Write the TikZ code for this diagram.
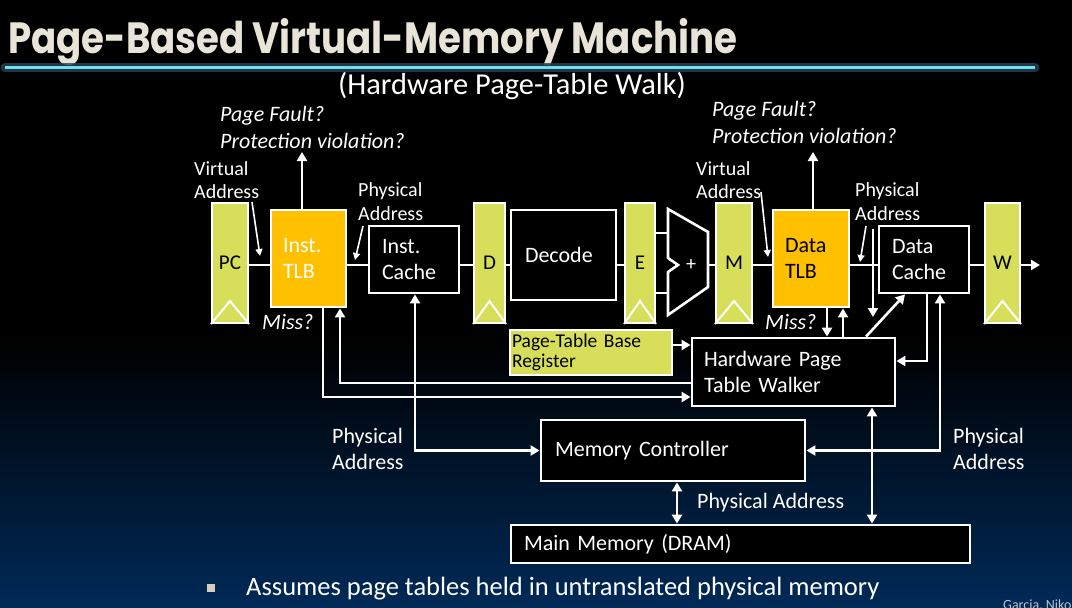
\documentclass[tikz,border=0pt]{standalone}
\usepackage{fontspec}
\setmainfont{Carlito}
\newfontfamily\titlefont{Poppins}
\usetikzlibrary{arrows.meta,calc}
\definecolor{regyel}{RGB}{215,222,90}
\definecolor{tlborange}{RGB}{255,192,0}
\definecolor{navybg}{RGB}{0,42,88}
\definecolor{titlecol}{RGB}{233,228,216}
\definecolor{cyanline}{RGB}{100,228,240}
\definecolor{glowcol}{RGB}{45,65,85}
\definecolor{bulletcol}{RGB}{216,206,192}
\definecolor{footcol}{RGB}{190,195,205}
\pgfdeclareverticalshading{slidebg}{100bp}{color(0bp)=(navybg); color(25bp)=(navybg); color(47bp)=(black); color(100bp)=(black)}
\begin{document}
\begin{tikzpicture}[x=1pt,y=-1pt,
  wire/.style={draw=white, line width=2.6pt},
  arr/.style={wire, -{Triangle[length=9pt,width=10pt]}},
  darr/.style={wire, {Triangle[length=9pt,width=10pt]}-{Triangle[length=9pt,width=10pt]}},
  thinarr/.style={draw=white, line width=1.6pt, -{Triangle[length=7pt,width=7pt]}},
  reg/.style={draw=white, line width=2pt, fill=regyel, text=black, minimum height=120pt, inner sep=0, font=\fontsize{21}{25}\selectfont},
  chev/.style={draw=white, line width=2pt},
  blk/.style={draw=white, line width=2.8pt, fill=black, text=white, inner ysep=0, align=left, font=\fontsize{22}{26}\selectfont},
  tlb/.style={blk, fill=tlborange},
  lbl/.style={text=white, inner sep=0, anchor=west, align=left, font=\fontsize{20}{23.5}\selectfont},
  lblb/.style={text=white, inner sep=0, anchor=west, align=left, font=\fontsize{22}{26}\selectfont},
  ilbl/.style={text=white, inner sep=0, anchor=west, align=left, font=\fontsize{22}{27}\selectfont\itshape}
]
\useasboundingbox (0,0) rectangle (1072,608);
\clip (0,0) rectangle (1072,608);
\shade[shading=slidebg] (0,0) rectangle (1072,608);

% title
\node[anchor=base west, inner sep=0, text=titlecol] (title) at (8,53)
  {\resizebox{729pt}{35pt}{\titlefont\bfseries Page-Based Virtual-Memory Machine}};
\coordinate (cl1) at (5,67);
\coordinate (cl2) at (1035,67);
\draw[glowcol, line width=9pt, line cap=round, opacity=0.8] (cl1) -- (cl2);
\draw[cyanline, line width=3pt] (cl1) -- (cl2);
\node[text=white, inner sep=0, font=\fontsize{30.4}{32}\selectfont] (sub) at (512,86) {(Hardware Page-Table Walk)};

% registers
\node[reg, minimum width=36pt] (pc) at (230,263) {PC};
\node[reg, minimum width=31pt] (dreg) at (489.5,263) {D};
\node[reg, minimum width=30pt] (ereg) at (640,263) {E};
\node[reg, minimum width=36pt] (mreg) at (734,263) {M};
\node[reg, minimum width=35pt] (wreg) at (1002.5,263) {W};
\foreach \r in {pc,dreg,ereg,mreg,wreg}
  \draw[chev] (\r.south west) -- ($(\r.south)+(0,-23)$) -- (\r.south east);

% boxes
\node[tlb, text=white, minimum width=75pt, minimum height=97pt, text width=51pt, inner xsep=12pt] (itlb) at (308.5,258.5) {Inst.\\TLB};
\node[blk, minimum width=90pt, minimum height=67pt, text width=64pt, inner xsep=13pt] (icache) at (414,259.5) {Inst.\\Cache};
\node[blk, minimum width=105pt, minimum height=90pt, text width=77pt, inner xsep=14pt] (decode) at (563.5,255) {Decode};
\node[tlb, text=black, minimum width=76pt, minimum height=97pt, text width=52pt, inner xsep=12pt] (dtlb) at (811,258.5) {Data\\TLB};
\node[blk, minimum width=90pt, minimum height=67pt, text width=64pt, inner xsep=13pt] (dcache) at (924,259.5) {Data\\Cache};
\node[blk, fill=regyel, text=black, minimum width=162pt, minimum height=45pt, text width=158pt, inner xsep=2pt, font=\fontsize{19.5}{20}\selectfont] (ptbr) at (591,352.5) {Page-Table Base\\Register};
\node[blk, minimum width=203pt, minimum height=68pt, text width=179pt, inner xsep=12pt] (hptw) at (793.5,372) {Hardware Page\\Table Walker};
\node[blk, minimum width=264pt, minimum height=61pt, text width=236pt, inner xsep=14pt] (mc) at (673,450.5) {Memory Controller};
\node[blk, minimum width=459pt, minimum height=38pt, text width=433pt, inner xsep=13pt] (mm) at (740.5,544) {Main Memory (DRAM)};

% adder
\coordinate (addin1) at (668,233);
\coordinate (addin2) at (668,293);
\coordinate (addout) at (708,265);
\draw[wire, fill=black, line join=miter] (668,209) -- (708,232) -- (708,287) -- (668,315) -- (668,272) -- (678,265) -- (668,258) -- cycle;
\node[text=white, inner sep=0, font=\fontsize{20}{20}\selectfont] (plus) at (691,265) {+};

% helper coordinates
\coordinate (ymain) at (0,265);
\coordinate (out) at (1040,265);
\coordinate (x302) at (302,0);
\coordinate (x813) at (813,0);
\coordinate (top1) at (302,152);
\coordinate (top2) at (813,152);
\coordinate (x323) at (323,0);
\coordinate (x340) at (340,0);
\coordinate (x415) at (415,0);
\coordinate (y397) at (0,397);
\coordinate (y383) at (0,383);
\coordinate (y345) at (0,345);
\coordinate (y361) at (0,361);
\coordinate (x827) at (827,0);
\coordinate (x843) at (843,0);
\coordinate (x866) at (866,0);
\coordinate (x905) at (905,0);
\coordinate (x927) at (927,0);
\coordinate (x940) at (940,0);
\coordinate (x872) at (872,0);
\coordinate (x677) at (677,0);
\coordinate (pa3a) at (873,229);
\coordinate (pa3b) at (873,317);
\coordinate (va1s) at (252,202);
\coordinate (va1e) at (260,256);
\coordinate (pa1s) at (363,226);
\coordinate (pa1e) at (355,260);
\coordinate (va2s) at (761,192);
\coordinate (va2e) at (768,257);
\coordinate (pa2s) at (866,226);
\coordinate (pa2e) at (860,262);

% main datapath
\draw[wire] (pc.east |- ymain) -- (itlb.west |- ymain);
\draw[wire] (itlb.east |- ymain) -- (icache.west |- ymain);
\draw[wire] (icache.east |- ymain) -- (dreg.west |- ymain);
\draw[wire] (dreg.east |- ymain) -- (decode.west |- ymain);
\draw[wire] (decode.east |- ymain) -- (ereg.west |- ymain);
\draw[wire] (ereg.east |- addin1) -- (addin1);
\draw[wire] (ereg.east |- addin2) -- (addin2);
\draw[wire] (addout) -- (mreg.west |- ymain);
\draw[wire] (mreg.east |- ymain) -- (dtlb.west |- ymain);
\draw[wire] (dtlb.east |- ymain) -- (dcache.west |- ymain);
\draw[wire] (dcache.east |- ymain) -- (wreg.west |- ymain);
\draw[arr] (wreg.east |- ymain) -- (out);

% up arrows (faults)
\draw[arr] (itlb.north -| x302) -- (top1);
\draw[arr] (dtlb.north -| x813) -- (top2);

% page table walker connections
\draw[arr] (itlb.south -| x323) |- (hptw.west |- y397);
\draw[arr] (hptw.west |- y383) -| (itlb.south -| x340);
\draw[darr] (icache.south -| x415) |- (mc.west);
\draw[arr] (ptbr.east |- y345) -- (hptw.west |- y345);
\draw[arr] (dtlb.south -| x827) -- (hptw.north -| x827);
\draw[arr] (hptw.north -| x843) -- (dtlb.south -| x843);
\draw[arr] (pa3a) -- (pa3b);
\draw[arr] (hptw.north -| x866) -- (dcache.south -| x905);
\draw[arr] (dcache.south -| x927) |- (hptw.east |- y361);
\draw[darr] (dcache.south -| x940) |- (mc.east);
\draw[darr] (hptw.south -| x872) -- (mm.north -| x872);
\draw[darr] (mc.south -| x677) -- (mm.north -| x677);

% label arrows
\draw[thinarr] (va1s) -- (va1e);
\draw[thinarr] (pa1s) -- (pa1e);
\draw[thinarr] (va2s) -- (va2e);
\draw[thinarr] (pa2s) -- (pa2e);

% labels
\node[ilbl] (pf1) at (220,127.5) {Page Fault?\\Protection violation?};
\node[ilbl] (pf2) at (712,122.5) {Page Fault?\\Protection violation?};
\node[lbl] (va1) at (194,180) {Virtual\\Address};
\node[lbl] (pa1) at (358,201.5) {Physical\\Address};
\node[lbl] (va2) at (696,180) {Virtual\\Address};
\node[lbl] (pa2) at (855,201.5) {Physical\\Address};
\node[ilbl] (miss1) at (262,322) {Miss?};
\node[ilbl] (miss2) at (765,322) {Miss?};
\node[lblb] (pa3) at (332,449) {Physical\\Address};
\node[lblb] (pa4) at (953,449) {Physical\\Address};
\node[lblb] (pa5) at (697,503) {Physical Address};

% bullet
\node[fill=bulletcol, minimum size=8pt, inner sep=0] (bul) at (211,588) {};
\node[text=white, inner sep=0, anchor=west, font=\fontsize{26.5}{30}\selectfont] (btext) at (246,589) {Assumes page tables held in untranslated physical memory};
\node[text=footcol, inner sep=0, anchor=west, font=\fontsize{14}{15}\selectfont] (foot) at (1003,606) {Garcia, Nikolić};
\end{tikzpicture}
\end{document}
